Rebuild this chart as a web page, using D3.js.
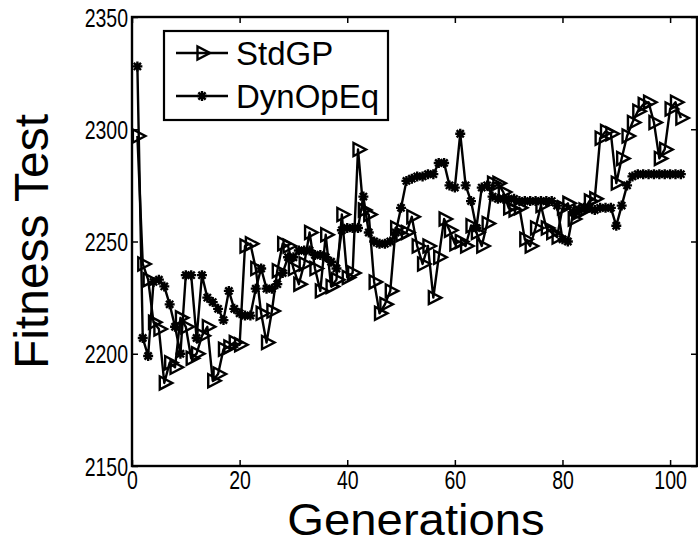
<!DOCTYPE html>
<html>
<head>
<meta charset="utf-8">
<script src="https://cdn.jsdelivr.net/npm/d3@7"></script>
<style>
  html, body { margin: 0; padding: 0; background: #fff; }
  svg { display: block; }
  text { font-family: "Liberation Sans", Arial, Helvetica, sans-serif; fill: #000; }
</style>
</head>
<body>
<svg id="chart" width="698" height="544"></svg>
<script>
// ---- data ----
const generations = d3.range(1, 103);
const stdGP = [
  2297, 2240, 2233, 2214, 2211, 2187, 2196, 2194, 2216, 2212,
  2198, 2200, 2208, 2212, 2188, 2191, 2202, 2203, 2205, 2204,
  2248, 2249, 2238, 2218, 2205, 2219, 2237, 2249, 2248, 2238,
  2231, 2240, 2254, 2238, 2228, 2253, 2230, 2233, 2262, 2234,
  2236, 2291, 2264, 2262, 2232, 2218, 2222, 2228, 2256, 2253,
  2254, 2261, 2248, 2240, 2248, 2225, 2243, 2260, 2255, 2249,
  2250, 2248, 2257, 2254, 2248, 2258, 2276, 2276, 2272, 2265,
  2264, 2265, 2251, 2248, 2256, 2266, 2256, 2254, 2252, 2265,
  2267, 2260, 2263, 2264, 2268, 2269, 2296, 2299, 2298, 2276,
  2287, 2297, 2303, 2308, 2311, 2312, 2303, 2287, 2291, 2309,
  2312, 2305
];
const dynOpEq = [
  2328, 2207, 2199, 2232, 2233, 2230, 2222, 2212, 2200, 2235,
  2235, 2207, 2235, 2225, 2223, 2220, 2215, 2228, 2220, 2218,
  2217, 2217, 2229, 2238, 2229, 2229, 2231, 2236, 2243, 2243,
  2246, 2246, 2246, 2244, 2244, 2243, 2241, 2238, 2255, 2256,
  2256, 2256, 2270, 2254, 2250, 2249, 2249, 2250, 2254, 2265,
  2277, 2278, 2279, 2279, 2280, 2280, 2285, 2285, 2275, 2274,
  2298, 2275, 2268, 2256, 2274, 2275, 2270, 2269, 2269, 2269,
  2269, 2268, 2268, 2268, 2268, 2268, 2268, 2268, 2266, 2251,
  2250, 2263, 2264, 2265, 2265, 2264, 2265, 2265, 2265, 2257,
  2266, 2275, 2279, 2280, 2280, 2280, 2280, 2280, 2280, 2280,
  2280, 2280
];
const seriesNames = ["StdGP", "DynOpEq"];
const xTicks = [0, 20, 40, 60, 80, 100];
const yTicks = [2150, 2200, 2250, 2300, 2350];
const xLabel = "Generations";
const yLabel = "Fitness Test";

// ---- layout ----
const svg = d3.select("#chart");
const L = 132, T = 17, R = 697, B = 466;
const x = d3.scaleLinear().domain([0, 105]).range([L, R]);
const y = d3.scaleLinear().domain([2150, 2350]).range([B, T]);
const squeeze = 0.78;
const lw = 2.4;

svg.append("rect").attr("width", 698).attr("height", 544).attr("fill", "#fff");

// axes (inward ticks, mirrored)
const gx = svg.append("g").attr("transform", `translate(0,${B})`)
  .call(d3.axisBottom(x).tickValues(xTicks).tickSizeInner(-6).tickSizeOuter(0).tickPadding(5).tickFormat(d3.format("d")));
const gxt = svg.append("g").attr("transform", `translate(0,${T})`)
  .call(d3.axisTop(x).tickValues(xTicks).tickSizeInner(-6).tickSizeOuter(0).tickFormat(""));
const gy = svg.append("g").attr("transform", `translate(${L},0)`)
  .call(d3.axisLeft(y).tickValues(yTicks).tickSizeInner(-6).tickSizeOuter(0).tickPadding(4).tickFormat(d3.format("d")));
const gyr = svg.append("g").attr("transform", `translate(${R},0)`)
  .call(d3.axisRight(y).tickValues(yTicks).tickSizeInner(-6).tickSizeOuter(0).tickFormat(""));
[gx, gxt, gy, gyr].forEach(g => {
  g.select(".domain").remove();
  g.selectAll(".tick line").attr("stroke", "#000").attr("stroke-width", 1.5);
  g.selectAll(".tick text").style("font-size", "25px")
    .attr("transform", `scale(${squeeze},1)`);
});
gy.selectAll(".tick text").attr("x", -4 / squeeze).attr("dy", "0.36em");

// frame
svg.append("rect").attr("x", L).attr("y", T).attr("width", R - L).attr("height", B - T)
  .attr("fill", "none").attr("stroke", "#000").attr("stroke-width", 2.4);

// markers
const triPath = "M-4.5,-6.5L-4.5,6.5L8,0Z";
function drawStar(sel) {
  sel.append("path")
    .attr("d", "M-5,0L5,0M0,-5L0,5M-3.6,-3.6L3.6,3.6M-3.6,3.6L3.6,-3.6")
    .attr("stroke", "#000").attr("stroke-width", lw).attr("fill", "none");
}
function drawTri(sel) {
  sel.append("path").attr("d", triPath)
    .attr("stroke", "#000").attr("stroke-width", lw).attr("fill", "none").attr("stroke-linejoin", "miter");
}

const line = d3.line().x((d, i) => x(generations[i])).y(d => y(d));
const plot = svg.append("g");

// StdGP
plot.append("path").datum(stdGP).attr("d", line)
  .attr("fill", "none").attr("stroke", "#000").attr("stroke-width", lw).attr("stroke-linejoin", "round");
plot.append("g").selectAll("g").data(stdGP).join("g")
  .attr("transform", (d, i) => `translate(${x(generations[i])},${y(d)})`)
  .call(drawTri);

// DynOpEq
plot.append("path").datum(dynOpEq).attr("d", line)
  .attr("fill", "none").attr("stroke", "#000").attr("stroke-width", lw).attr("stroke-linejoin", "round");
plot.append("g").selectAll("g").data(dynOpEq).join("g")
  .attr("transform", (d, i) => `translate(${x(generations[i])},${y(d)})`)
  .call(drawStar);

// axis titles
svg.append("text").attr("transform", "translate(416,535) scale(1.05,1)")
  .attr("text-anchor", "middle").style("font-size", "45px").text(xLabel);
svg.append("text").attr("transform", `translate(48,${(T + B) / 2}) rotate(-90)`)
  .attr("text-anchor", "middle").style("font-size", "48px").text(yLabel);

// legend
const lg = svg.append("g");
lg.append("rect").attr("x", 164).attr("y", 31).attr("width", 224).attr("height", 89)
  .attr("fill", "#fff").attr("stroke", "#000").attr("stroke-width", 2.2);
const rows = [53, 96];
seriesNames.forEach((name, i) => {
  const row = lg.append("g").attr("transform", `translate(0,${rows[i]})`);
  row.append("line").attr("x1", 176).attr("x2", 228).attr("y1", 0).attr("y2", 0)
    .attr("stroke", "#000").attr("stroke-width", lw);
  const m = row.append("g").attr("transform", "translate(202,0)");
  if (i === 0) drawTri(m); else drawStar(m);
  row.append("text").attr("x", 236).attr("dy", "0.36em").style("font-size", "33px").text(name);
});
</script>
</body>
</html>
